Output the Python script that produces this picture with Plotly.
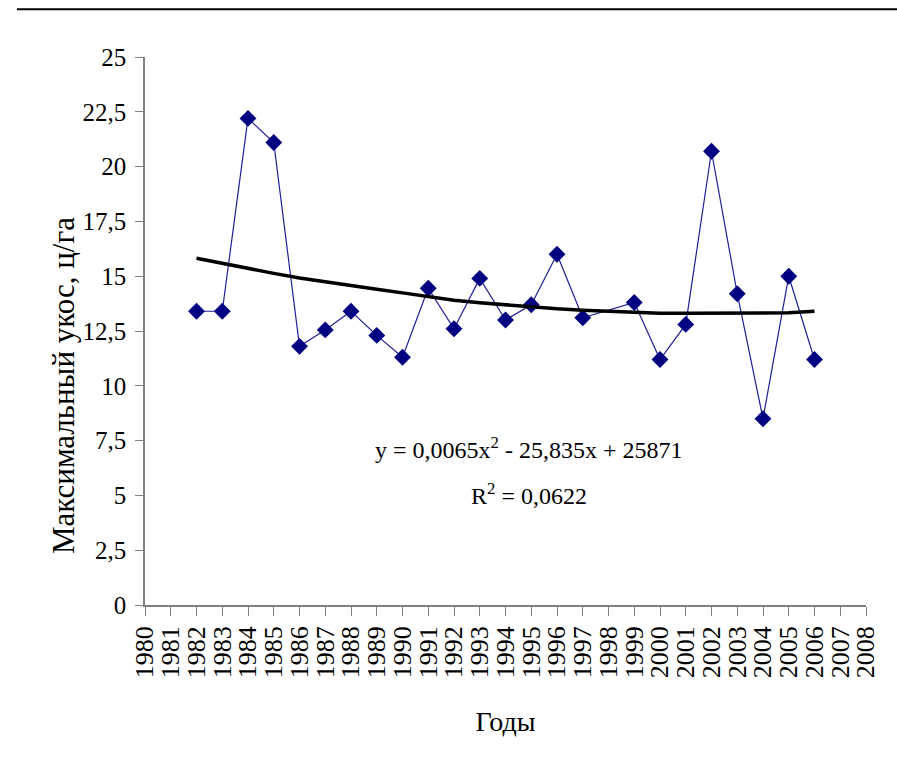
import plotly.graph_objects as go

# Data
years = [1982, 1983, 1984, 1985, 1986, 1987, 1988, 1989, 1990, 1991, 1992, 1993,
         1994, 1995, 1996, 1997, 1999, 2000, 2001, 2002, 2003, 2004, 2005, 2006]
yields = [13.4, 13.4, 22.2, 21.1, 11.8, 12.55, 13.4, 12.3, 11.3, 14.45, 12.6, 14.9,
          13.0, 13.7, 16.0, 13.1, 13.8, 11.2, 12.8, 20.7, 14.2, 8.5, 15.0, 11.2]

trend_years = list(range(1982, 2007))
trend_vals = [15.82, 15.58, 15.35, 15.13, 14.92, 14.74, 14.57, 14.40, 14.24, 14.07,
              13.90, 13.79, 13.69, 13.60, 13.51, 13.45, 13.40, 13.35, 13.31, 13.31,
              13.31, 13.31, 13.31, 13.33, 13.40]

x_ticks = list(range(1980, 2009))
x_ticklabels = [str(y) for y in x_ticks]
y_ticks = [0, 2.5, 5, 7.5, 10, 12.5, 15, 17.5, 20, 22.5, 25]
y_ticklabels = ["0", "2,5", "5", "7,5", "10", "12,5", "15", "17,5", "20", "22,5", "25"]

equation_text = "y = 0,0065x<sup>2</sup> - 25,835x + 25871"
r2_text = "R<sup>2</sup> = 0,0622"
x_title = "Годы"
y_title = "Максимальный укос, ц/га"

FONT = "Liberation Serif"

fig = go.Figure()
fig.add_trace(go.Scatter(
    x=years, y=yields, mode="lines+markers",
    line=dict(color="#1f1f99", width=1.2),
    marker=dict(symbol="diamond", size=13, color="#000080"),
    showlegend=False,
))
fig.add_trace(go.Scatter(
    x=trend_years, y=trend_vals, mode="lines",
    line=dict(color="black", width=3.5),
    showlegend=False,
))

fig.add_annotation(x=1994.9, y=7.15, xref="x", yref="y", text=equation_text,
                   showarrow=False, font=dict(family=FONT, size=24, color="black"))
fig.add_annotation(x=1994.9, y=5.05, xref="x", yref="y", text=r2_text,
                   showarrow=False, font=dict(family=FONT, size=24, color="black"))

# y-axis title (placed as annotation to match reference position)
fig.add_annotation(x=-0.112, y=0.40, xref="paper", yref="paper", text=y_title,
                   textangle=-90, showarrow=False, xanchor="center", yanchor="middle",
                   font=dict(family=FONT, size=31, color="black"))

# top rule
fig.add_shape(type="line", xref="paper", yref="paper",
              x0=-0.1775, x1=1.05, y0=1.087, y1=1.087,
              line=dict(color="black", width=2))

fig.update_layout(
    width=897, height=767,
    margin=dict(l=145, r=31, t=57, b=162),
    plot_bgcolor="white", paper_bgcolor="white",
    font=dict(family=FONT, color="black"),
)
fig.update_xaxes(
    range=[1980, 2008], tickvals=x_ticks, ticktext=x_ticklabels,
    tickangle=-90, ticks="outside", ticklen=9, tickcolor="#808080", tickwidth=1,
    showline=True, linecolor="#808080", linewidth=1.5,
    showgrid=False, zeroline=False,
    tickfont=dict(family=FONT, size=26, color="black"),
    title=dict(text=x_title, font=dict(family=FONT, size=28, color="black"), standoff=34),
)
fig.update_yaxes(
    range=[0, 25], tickvals=y_ticks, ticktext=y_ticklabels,
    ticks="outside", ticklen=8, tickcolor="#808080", tickwidth=1,
    showline=True, linecolor="#808080", linewidth=1.5,
    showgrid=False, zeroline=False, ticklabelstandoff=4,
    tickfont=dict(family=FONT, size=25, color="black"),
)

fig.write_html("out.html")
